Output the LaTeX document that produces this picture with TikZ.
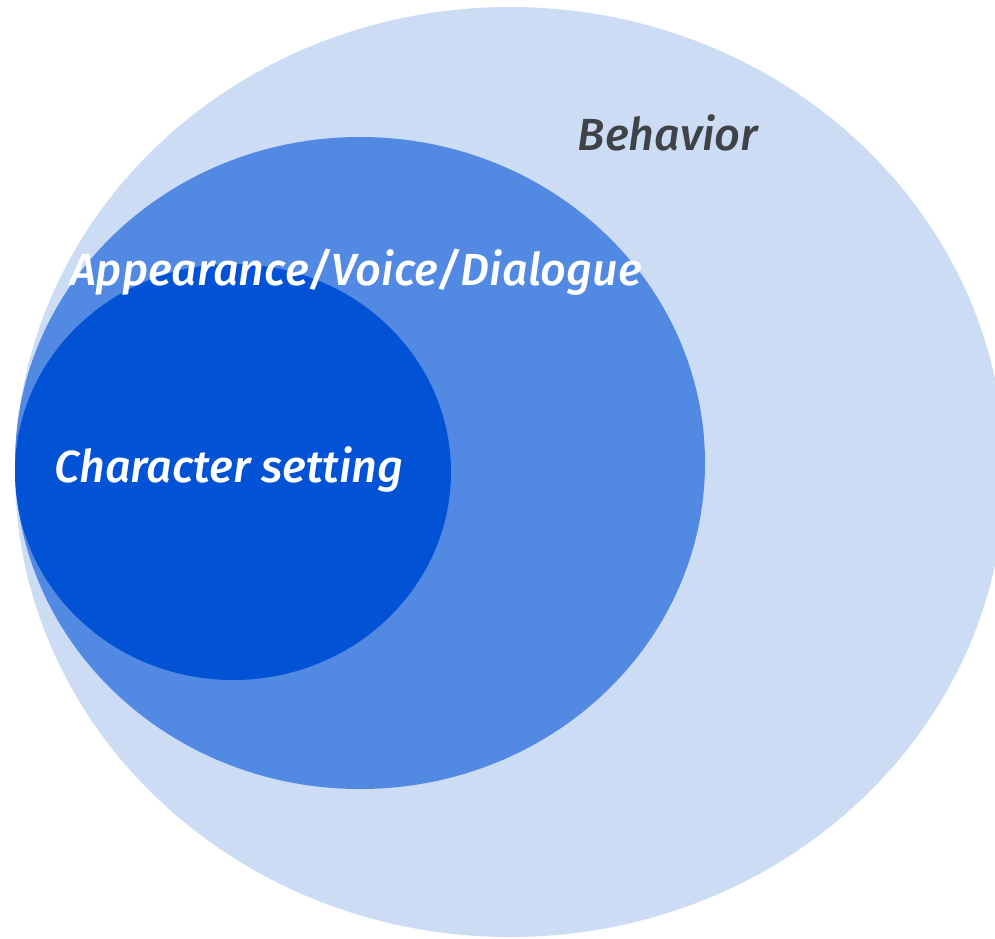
\documentclass[tikz,border=0pt]{standalone}
\usepackage{fontspec}
\setmainfont{Fira Sans}
\newfontfamily\labelfont{Fira Sans}[UprightFont=* Medium, ItalicFont=* Medium Italic]
\usepackage{xcolor}
\usepackage{tikz}
\usetikzlibrary{shapes.geometric}
\definecolor{behaviorblue}{HTML}{CCDCF5}
\definecolor{appearblue}{HTML}{5289E3}
\definecolor{charblue}{HTML}{0252D6}
\definecolor{labelgray}{HTML}{3F4246}

\begin{document}
\begin{tikzpicture}[
        x=1pt, y=-1pt,
        layer/.style={ellipse, inner sep=0pt, draw=none},
        tag/.style={font=\labelfont\fontsize{45}{45}\selectfont\itshape, text=white, inner sep=0pt}
    ]
        \useasboundingbox (0,0) rectangle (995,938);
        \clip (0,0) rectangle (995,938);
        \node[layer, fill=behaviorblue, minimum width=990pt, minimum height=930pt] (behavior) at (510,472) {};
        \node[layer, fill=appearblue, minimum width=690pt, minimum height=652pt] (appear) at (360,463) {};
        \node[layer, fill=charblue, minimum width=436pt, minimum height=416pt] (char) at (233,472) {};

        \node[tag, text=labelgray] (behaviorlabel) at (668,133) {Behavior};
        \node[tag] (appearlabel) at (356,272) {Appearance/Voice/Dialogue};
        \node[tag] (charlabel) at (229,470) {Character setting};
    \end{tikzpicture}
\end{document}
